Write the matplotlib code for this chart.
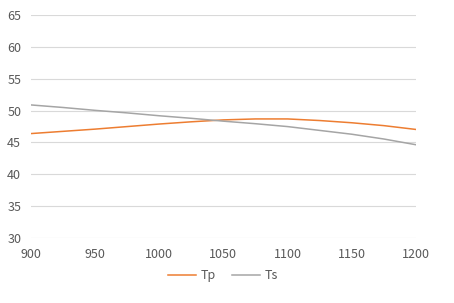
import matplotlib
matplotlib.use("Agg")
import matplotlib.pyplot as plt

x_vals = [900, 925, 950, 975, 1000, 1025, 1050, 1075, 1100, 1125, 1150, 1175, 1200]
tp_vals = [46.4, 46.75, 47.1, 47.5, 47.9, 48.25, 48.55, 48.7, 48.7, 48.45, 48.1, 47.65, 47.05]
ts_vals = [50.9, 50.5, 50.05, 49.65, 49.2, 48.8, 48.35, 47.95, 47.5, 46.9, 46.3, 45.55, 44.65]
x_ticks = [900, 950, 1000, 1050, 1100, 1150, 1200]
y_ticks = [30, 35, 40, 45, 50, 55, 60, 65]

plt.rcParams['font.family'] = ['Noto Sans CJK SC', 'DejaVu Sans']

fig = plt.figure(figsize=(4.54, 3.03), dpi=100)
ax = fig.add_axes([0.068, 0.2145, 0.848, 0.7355])

ax.plot(x_vals, tp_vals, color='#ED7D31', lw=1.1, label='Tp')
ax.plot(x_vals, ts_vals, color='#A5A5A5', lw=1.1, label='Ts')

ax.set_xlim(900, 1200)
ax.set_ylim(30, 65)
ax.set_xticks(x_ticks)
ax.set_yticks(y_ticks)
ax.grid(axis='y', color='#D9D9D9', lw=0.8)
ax.set_axisbelow(True)
for s in ax.spines.values():
    s.set_visible(False)
ax.tick_params(length=0, labelsize=9, colors='#595959')
ax.tick_params(axis='y', pad=7)
ax.tick_params(axis='x', pad=7)

ax.legend(loc='upper center', bbox_to_anchor=(0.5, -0.09), ncol=2, frameon=False,
          fontsize=9, labelcolor='#595959', handlelength=2.2, columnspacing=1.3,
          handletextpad=0.4)

fig.savefig('out.png', dpi=100)
